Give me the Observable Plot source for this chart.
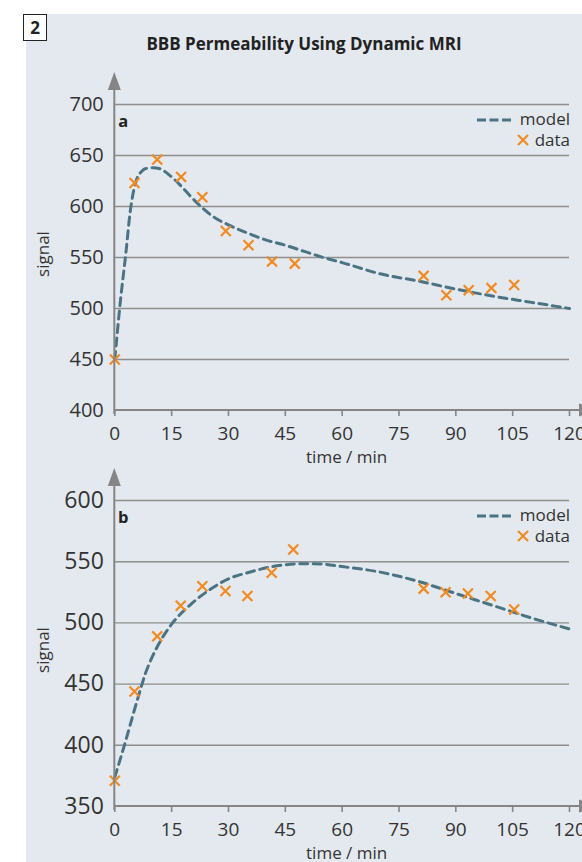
<!DOCTYPE html>
<html><head><meta charset="utf-8">
<script src="https://cdn.jsdelivr.net/npm/d3@7"></script>
<script src="https://cdn.jsdelivr.net/npm/@observablehq/plot@0.6"></script>
<style>
body{margin:0;background:#fff;font-family:"Open Sans",sans-serif;}
#wrap{position:relative;width:582px;height:862px;overflow:hidden;background:#fff;}
#panel{position:absolute;left:26px;top:14px;right:0;bottom:0;background:#e3e9ef;}
#num{position:absolute;left:23px;top:14px;width:22px;height:25px;border:1px solid #222;background:#fff;font-weight:700;font-size:17px;text-align:center;line-height:25px;color:#222;box-sizing:content-box;}
#title{position:absolute;left:26px;right:0;top:33px;text-align:center;font-weight:700;font-size:17px;color:#222;line-height:22px;}
.chart{position:absolute;left:0;}
</style></head>
<body>
<div id="wrap">
  <div id="panel"></div>
  <div id="num">2</div>
  <div id="title">BBB Permeability Using Dynamic MRI</div>
  <div id="chartA" class="chart" style="top:60px"></div>
  <div id="chartB" class="chart" style="top:462px"></div>
</div>
<script>
// ---- data ----
const xTicks = [0, 15, 30, 45, 60, 75, 90, 105, 120];
const xLabel = "time / min";
const yLabel = "signal";
const legendLabels = ["model", "data"];

// panel a
const yTicksA = [400, 450, 500, 550, 600, 650, 700];
const timeA = [0, 5.2, 11.2, 17.5, 23.1, 29.3, 35.3, 41.5, 47.5, 81.5, 87.5, 93.4, 99.4, 105.4];
const signalA = [450, 623, 646, 629, 609, 576, 562, 546, 544, 532, 513, 518, 520, 523];
const modelTimeA = [0, 1.5, 3, 4, 5, 6, 7, 8, 10, 12, 14, 17, 20, 23, 26, 30, 35, 40, 45, 50, 55, 60, 70, 80, 90, 100, 110, 120];
const modelA = [450, 508, 557, 593, 616, 629, 634, 637, 638, 637, 632, 622, 610, 599, 590, 582, 574, 567, 562, 556, 550, 545, 534, 527, 519, 512, 506, 500];

// panel b
const yTicksB = [350, 400, 450, 500, 550, 600];
const timeB = [0, 5.2, 11.2, 17.4, 23.1, 29.2, 35, 41.4, 47.1, 81.5, 87.3, 93.2, 99.2, 105.4];
const signalB = [371, 444, 489, 514, 530, 526, 522, 541, 560, 528, 525, 524, 522, 511];
const modelTimeB = [0, 3, 5, 7, 8, 9, 10, 12, 15, 20, 25, 30, 35, 40, 45, 50, 55, 60, 70, 80, 90, 100, 110, 120];
const modelB = [374, 405, 427, 448, 458, 466, 473, 485, 499, 515, 527, 536, 541, 545, 547.5, 548.3, 548, 546, 541.5, 534, 524, 514, 504, 495];

// ---- style ----
const C = {grid: "#8e8e8e", axis: "#858585", text: "#333", model: "#4a7383", data: "#f28a22"};
const FONT = "'Open Sans', sans-serif";

function chart({yTicks, time, signal, mTime, mSig, letter, height, marginTop, marginBottom, yFont}) {
  const data = time.map((t, i) => ({t, v: signal[i]}));
  const model = mTime.map((t, i) => ({t, v: mSig[i]}));
  const yDom = [yTicks[0], yTicks[yTicks.length - 1]];
  const deco = (index, scales, values, dim) => {
    const {x, y} = scales;
    const g = d3.create("svg:g");
    const x0 = x(0), yb = y(yDom[0]), yt = y(yDom[1]);
    // y axis line + arrow
    g.append("line").attr("x1", x0).attr("x2", x0).attr("y1", yb + 4).attr("y2", yt - 16)
      .attr("stroke", C.axis).attr("stroke-width", 2);
    g.append("path").attr("d", `M${x0},${yt - 32} L${x0 + 6.5},${yt - 14} L${x0 - 6.5},${yt - 14} Z`).attr("fill", C.axis);
    // x axis line + arrow
    const xe = x(120);
    g.append("line").attr("x1", x0).attr("x2", xe + 12).attr("y1", yb).attr("y2", yb)
      .attr("stroke", C.axis).attr("stroke-width", 2);
    g.append("path").attr("d", `M${xe + 10},${yb - 6.5} L${xe + 28},${yb} L${xe + 10},${yb + 6.5} Z`).attr("fill", C.axis);
    // panel letter
    g.append("text").attr("x", x0 + 9).attr("y", yt + 17).attr("dy", "0.35em")
      .attr("font-weight", 700).attr("font-size", 16.5).attr("fill", "#222").text(letter);
    // y label
    g.append("text").attr("transform", `translate(43,${(yt + yb) / 2 - 3}) rotate(-90)`)
      .attr("text-anchor", "middle").attr("dy", "0.35em").attr("font-size", 17).attr("fill", C.text).text(yLabel);
    // x label
    g.append("text").attr("x", (x0 + xe) / 2 + 5).attr("y", yb + 47).attr("dy", "0.35em")
      .attr("text-anchor", "middle").attr("font-size", 17).attr("fill", C.text).text(xLabel);
    // legend
    const r = dim.width - dim.marginRight + 1;
    const ly1 = yt + 15, ly2 = yt + 36;
    g.append("text").attr("x", r).attr("y", ly1).attr("dy", "0.35em").attr("text-anchor", "end")
      .attr("font-size", 17).attr("fill", C.text).text(legendLabels[0]);
    g.append("line").attr("x1", r - 93).attr("x2", r - 59).attr("y1", ly1 + 1).attr("y2", ly1 + 1)
      .attr("stroke", C.model).attr("stroke-width", 3).attr("stroke-dasharray", "9,3.5");
    g.append("text").attr("x", r).attr("y", ly2).attr("dy", "0.35em").attr("text-anchor", "end")
      .attr("font-size", 17).attr("fill", C.text).text(legendLabels[1]);
    g.append("path").attr("d", `M${r - 52},${ly2 - 5} l10,10 M${r - 52},${ly2 + 5} l10,-10`)
      .attr("stroke", C.data).attr("stroke-width", 2.2).attr("fill", "none");
    return g.node();
  };
  return Plot.plot({
    width: 582, height, marginLeft: 114.3, marginRight: 13, marginTop, marginBottom,
    style: {background: "transparent", overflow: "visible", fontFamily: FONT},
    x: {domain: [0, 120]},
    y: {domain: yDom},
    marks: [
      Plot.ruleY(yTicks.slice(1), {stroke: C.grid, strokeWidth: 1.4}),
      Plot.axisX({ticks: xTicks, tickSize: 6, tickPadding: 10, fontSize: 19, stroke: C.axis, strokeWidth: 1.6, color: C.text, label: null}),
      Plot.axisY({ticks: yTicks, tickSize: 0, tickPadding: 11, fontSize: yFont, color: C.text, label: null}),
      Plot.line(model, {x: "t", y: "v", stroke: C.model, strokeWidth: 3, strokeDasharray: "8,5.5", curve: "monotone-x"}),
      Plot.dot(data, {x: "t", y: "v", symbol: "times", r: 4.6, stroke: C.data, strokeWidth: 2.2}),
      deco
    ]
  });
}

document.getElementById("chartA").append(chart({
  yTicks: yTicksA, time: timeA, signal: signalA, mTime: modelTimeA, mSig: modelA, letter: "a",
  height: 410, marginTop: 44, marginBottom: 60, yFont: 20
}));
document.getElementById("chartB").append(chart({
  yTicks: yTicksB, time: timeB, signal: signalB, mTime: modelTimeB, mSig: modelB, letter: "b",
  height: 400, marginTop: 38, marginBottom: 56, yFont: 23
}));
</script>
</body></html>
